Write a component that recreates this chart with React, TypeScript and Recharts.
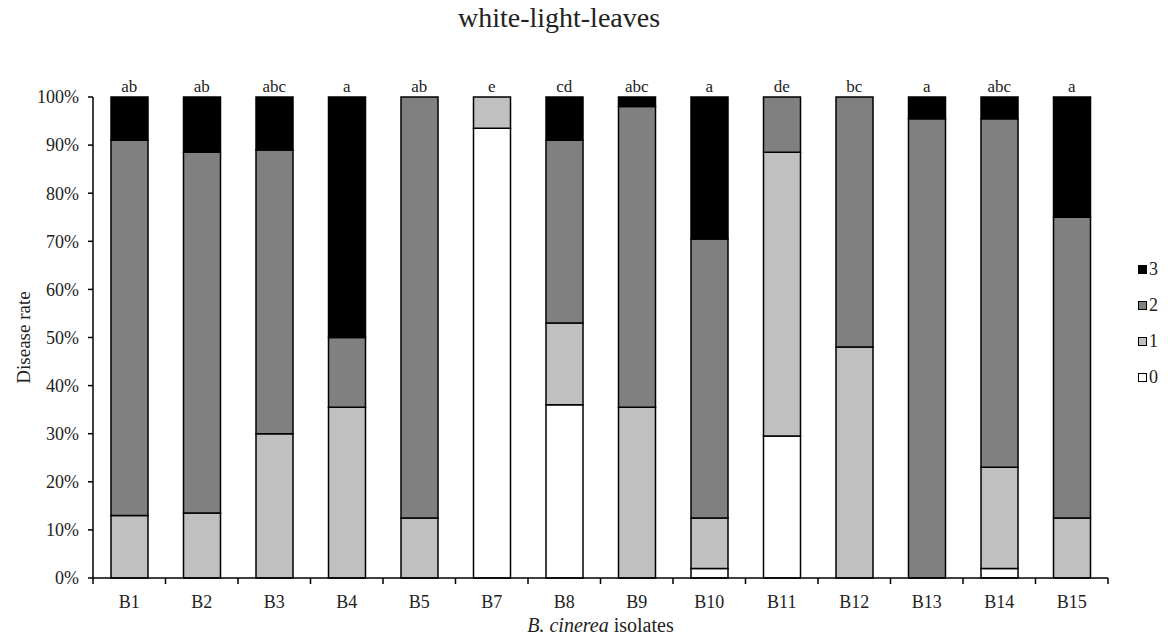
import { BarChart, Bar, XAxis, YAxis, Legend } from 'recharts';

const isolates = ['B1', 'B2', 'B3', 'B4', 'B5', 'B7', 'B8', 'B9', 'B10', 'B11', 'B12', 'B13', 'B14', 'B15'];
const level0 = [0, 0, 0, 0, 0, 93.5, 36, 0, 2, 29.5, 0, 0, 2, 0];
const level1 = [13, 13.5, 30, 35.5, 12.5, 6.5, 17, 35.5, 10.5, 59, 48, 0, 21, 12.5];
const level2 = [78, 75, 59, 14.5, 87.5, 0, 38, 62.5, 58, 11.5, 52, 95.5, 72.5, 62.5];
const level3 = [9, 11.5, 11, 50, 0, 0, 9, 2, 29.5, 0, 0, 4.5, 4.5, 25];
const letters = ['ab', 'ab', 'abc', 'a', 'ab', 'e', 'cd', 'abc', 'a', 'de', 'bc', 'a', 'abc', 'a'];
const yTicks = [0, 10, 20, 30, 40, 50, 60, 70, 80, 90, 100];

const data = isolates.map((name, i) => ({
  name,
  letter: letters[i],
  l0: level0[i],
  l1: level1[i],
  l2: level2[i],
  l3: level3[i],
}));

const FONT = '"Liberation Serif", "Times New Roman", serif';
const TICK_SIZE = 6;
const TICK_MARGIN = 11;

const legendItems = [
  { label: '3', color: '#000000' },
  { label: '2', color: '#808080' },
  { label: '1', color: '#c0c0c0' },
  { label: '0', color: '#ffffff' },
];

const XTick = (props: any) => {
  const { x, y, payload, index, visibleTicksCount } = props;
  const axisY = y - TICK_SIZE - TICK_MARGIN;
  const half = payload.offset || 0;
  const isLast = index === (visibleTicksCount ?? isolates.length) - 1;
  return (
    <g>
      <line x1={x - half} x2={x - half} y1={axisY} y2={axisY + TICK_SIZE} stroke="#000" strokeWidth={1.5} />
      {isLast && (
        <line x1={x + half} x2={x + half} y1={axisY} y2={axisY + TICK_SIZE} stroke="#000" strokeWidth={1.5} />
      )}
      <text x={x} y={y} dy="0.71em" textAnchor="middle" fill="#222" fontSize={18} fontFamily={FONT}>
        {payload.value}
      </text>
    </g>
  );
};

const renderLegend = () => (
  <div style={{ fontFamily: FONT, fontSize: 18, color: '#222' }}>
    {legendItems.map((item) => (
      <div key={item.label} style={{ display: 'flex', alignItems: 'center', height: 36 }}>
        <span
          style={{
            display: 'inline-block',
            width: 7,
            height: 7,
            background: item.color,
            border: '1.5px solid #000',
            marginRight: 2,
          }}
        />
        <span>{item.label}</span>
      </div>
    ))}
  </div>
);

const App = () => {
  return (
    <div style={{ position: 'relative', width: 1152, height: 631 }}>
      <div
        style={{
          position: 'absolute',
          top: -6,
          left: -25,
          width: 1152,
          textAlign: 'center',
          fontFamily: FONT,
          fontSize: 28,
          color: '#222',
        }}
      >
        white-light-leaves
      </div>
      <BarChart
        width={1152}
        height={631}
        data={data}
        margin={{ top: 69, right: 22, left: 15, bottom: 0 }}
        barSize={37}
      >
        <XAxis
          dataKey="name"
          height={61}
          axisLine={{ stroke: '#000', strokeWidth: 1.5 }}
          tickLine={false}
          tickSize={TICK_SIZE}
          tickMargin={TICK_MARGIN}
          tick={<XTick />}
          interval={0}
          label={{
            content: (props: any) => {
              const vb = props.viewBox;
              return (
                <text x={vb.x + vb.width / 2} y={vb.y + 54} textAnchor="middle" fontSize={20} fontFamily={FONT} fill="#222">
                  <tspan fontStyle="italic">B. cinerea</tspan> isolates
                </text>
              );
            },
          }}
        />
        <XAxis
          xAxisId="top"
          dataKey="letter"
          orientation="top"
          height={20}
          axisLine={false}
          tickLine={false}
          tickSize={1}
          tickMargin={4}
          interval={0}
          allowDuplicatedCategory
          tick={{ fill: '#222', fontSize: 17, fontFamily: FONT }}
        />
        <YAxis
          width={70}
          domain={[0, 100]}
          ticks={yTicks}
          interval={0}
          tickFormatter={(v) => `${v}%`}
          axisLine={{ stroke: '#000', strokeWidth: 1.5 }}
          tickLine={{ stroke: '#000', strokeWidth: 1.5 }}
          tickSize={5}
          tickMargin={9}
          tick={{ fill: '#222', fontSize: 18, fontFamily: FONT }}
          label={{
            content: (props: any) => {
              const vb = props.viewBox;
              const cx = vb.x;
              const cy = vb.y + vb.height / 2;
              return (
                <text
                  x={cx}
                  y={cy}
                  transform={`rotate(-90, ${cx}, ${cy})`}
                  textAnchor="middle"
                  dominantBaseline="central"
                  fontSize={19}
                  fontFamily={FONT}
                  fill="#222"
                >
                  Disease rate
                </text>
              );
            },
          }}
        />
        <Legend
          layout="vertical"
          align="right"
          verticalAlign="middle"
          content={renderLegend}
          wrapperStyle={{ right: -8, width: 30 }}
        />
        <Bar dataKey="l0" name="0" stackId="a" fill="#ffffff" stroke="#000" strokeWidth={1.5} isAnimationActive={false} />
        <Bar dataKey="l1" name="1" stackId="a" fill="#c0c0c0" stroke="#000" strokeWidth={1.5} isAnimationActive={false} />
        <Bar dataKey="l2" name="2" stackId="a" fill="#808080" stroke="#000" strokeWidth={1.5} isAnimationActive={false} />
        <Bar dataKey="l3" name="3" stackId="a" fill="#000000" stroke="#000" strokeWidth={1.5} isAnimationActive={false} />
      </BarChart>
    </div>
  );
};

export default App;
